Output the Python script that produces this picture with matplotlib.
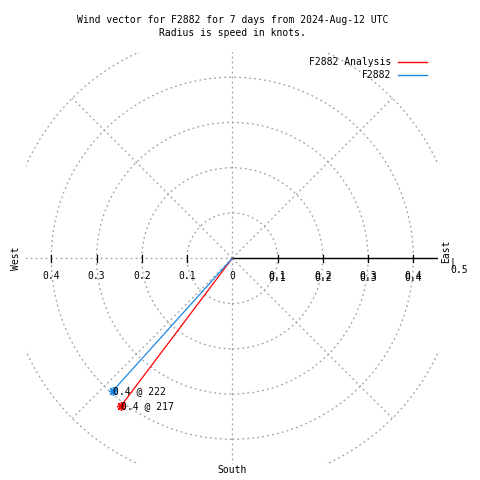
import numpy as np
import matplotlib.pyplot as plt
from matplotlib.patches import Circle

# wind vectors
series = ['F2882 Analysis', 'F2882']
speeds = [0.41, 0.395]        # knots
directions = [217, 222]       # degrees
colors = ['#ff0000', '#1e88e5']

ring_radii = [0.1, 0.2, 0.3, 0.4, 0.5]
tick_values = [0.1, 0.2, 0.3, 0.4]

plt.rcParams['font.family'] = 'DejaVu Sans Mono'
fs = 7

fig = plt.figure(figsize=(4.8, 4.8), dpi=100)
ax = fig.add_axes([0.055, 0.033, 0.858, 0.858])
ax.set_xlim(-0.455, 0.455)
ax.set_ylim(-0.455, 0.455)
ax.set_aspect('equal')
ax.axis('off')

grid = dict(color='#a0a0a0', lw=0.9, ls=(0, (1.5, 2.5)))
for r in ring_radii:
    ax.add_patch(Circle((0, 0), r, fill=False, **grid))
for a in np.arange(0, 360, 45):
    t = np.radians(a)
    rr = 0.5 if a % 90 else 0.7
    ax.plot([0, rr * np.sin(t)], [0, rr * np.cos(t)], **grid)

# east axis
ax.plot([0, 0.452], [0, 0], color='black', lw=1)
for v in tick_values:
    for s in (1, -1):
        ax.plot([s * v, s * v], [-0.008, 0.008], color='black', lw=0.9)
        ax.text(s * v, -0.04, '%.1f' % v, ha='center', va='center', fontsize=fs)
    # east labels are drawn twice in the original (overstruck)
    ax.text(v, -0.0445, '%.1f' % v, ha='center', va='center', fontsize=fs)
ax.text(0, -0.04, '0', ha='center', va='center', fontsize=fs)

ax.text(0.472, 0.016, 'East', rotation=90, ha='center', va='center', fontsize=fs, clip_on=False)
ax.text(0.487, -0.01, '|', ha='center', va='center', fontsize=fs, clip_on=False)
ax.text(0.502, -0.027, '0.5', ha='center', va='center', fontsize=fs, clip_on=False)
ax.text(-0.478, 0.0, 'West', rotation=90, ha='center', va='center', fontsize=fs, clip_on=False)
ax.text(0.0, -0.468, 'South', ha='center', va='center', fontsize=fs, clip_on=False)

for name, sp, d, c in zip(series, speeds, directions, colors):
    t = np.radians(d)
    x, y = sp * np.sin(t), sp * np.cos(t)
    ax.plot([0, x], [0, y], color=c, lw=0.9, label=name)
    ax.plot(x, y, marker=(8, 2, 0), color=c, ms=6.5, mew=1)
    ax.text(x + 0.001, y, '%.1f @ %d' % (sp, d), ha='left', va='center', fontsize=fs)

fig.text(0.485, 0.958, 'Wind vector for F2882 for 7 days from 2024-Aug-12 UTC',
         ha='center', va='center', fontsize=fs)
fig.text(0.485, 0.931, 'Radius is speed in knots.', ha='center', va='center', fontsize=fs)

# legend drawn by hand, text right-aligned
for i, (name, c) in enumerate(zip(series, colors)):
    yy = 0.871 - i * 0.027
    fig.text(0.815, yy, name, ha='right', va='center', fontsize=fs)
    fig.add_artist(plt.Line2D([0.83, 0.89], [yy, yy], color=c, lw=1))

fig.savefig('out.png')
